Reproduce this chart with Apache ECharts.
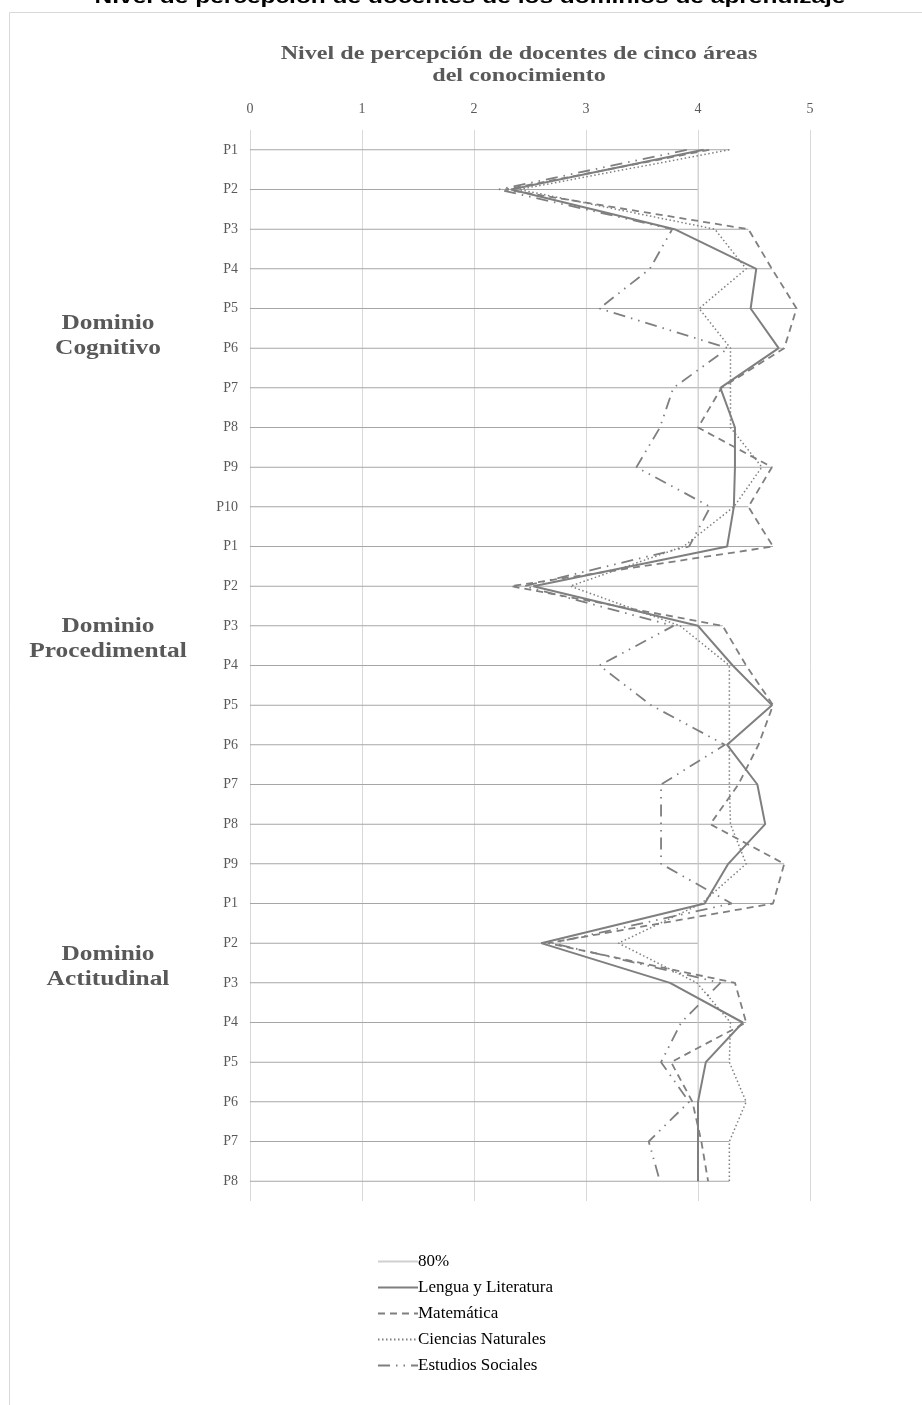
<!DOCTYPE html>
<html>
<head>
<meta charset="utf-8">
<script src="https://cdn.jsdelivr.net/npm/echarts@6/dist/echarts.min.js"></script>
<style>
html,body{margin:0;padding:0;background:#fff;}
#main{width:922px;height:1405px;}
</style>
</head>
<body>
<div id="main"></div>
<script>
var preguntas = ['P1','P2','P3','P4','P5','P6','P7','P8','P9','P10',
  'P1','P2','P3','P4','P5','P6','P7','P8','P9',
  'P1','P2','P3','P4','P5','P6','P7','P8'];
var ochenta = [4,4,4,4,4,4,4,4,4,4, 4,4,4,4,4,4,4,4,4, 4,4,4,4,4,4,4,4];
var lengua = [4.05,2.33,3.79,4.52,4.47,4.72,4.2,4.33,4.33,4.32,
  4.26,2.53,4.0,4.31,4.66,4.26,4.53,4.6,4.27,
  4.06,2.6,3.75,4.4,4.07,4.0,4.0,4.0];
var matematica = [4.1,2.28,4.45,4.66,4.88,4.77,4.21,4.0,4.66,4.45,
  4.67,2.33,4.22,4.43,4.67,4.54,4.36,4.11,4.77,
  4.67,2.66,4.33,4.43,3.76,3.95,4.03,4.09];
var ciencias = [4.28,2.4,4.15,4.43,4.01,4.29,4.29,4.29,4.57,4.32,
  3.87,2.86,3.84,4.28,4.28,4.28,4.28,4.29,4.43,
  4.03,3.29,3.99,4.29,4.28,4.43,4.28,4.28];
var sociales = [3.9,2.22,3.77,3.57,3.12,4.27,3.78,3.66,3.45,4.11,
  3.92,2.45,3.78,3.12,3.58,4.24,3.67,3.67,3.67,
  4.3,2.7,4.2,3.85,3.67,3.92,3.56,3.66];
var dominios = [['Dominio','Cognitivo'],['Dominio','Procedimental'],['Dominio','Actitudinal']];

// horizontal lines reach the highest value of each row
var maximos = preguntas.map(function(p, i){
  return Math.max(ochenta[i], lengua[i], matematica[i], ciencias[i], sociales[i]);
});

var serif = 'Liberation Serif';
var gris = '#7f7f7f';
var myChart = echarts.init(document.getElementById('main'));

function linea(nombre, datos, tipo, ancho, color){
  return {
    name: nombre, type: 'line', data: datos, symbol: 'none',
    lineStyle: {color: color || gris, width: ancho, type: tipo},
    itemStyle: {color: color || gris},
    emphasis: {disabled: true}, z: 5
  };
}

// the original image is stretched sideways, so texts get scaleX
var textos = [{
  type: 'text', x: 470, y: -11, scaleX: 1.36,
  style: {text: 'Nivel de percepción de docentes de los dominios de aprendizaje',
    fontFamily: 'Liberation Sans', fontWeight: 'bold', fontSize: 18, fill: '#000',
    align: 'center', verticalAlign: 'top'}
}, {
  type: 'text', x: 519, y: 43, scaleX: 1.34,
  style: {text: 'Nivel de percepción de docentes de cinco áreas\ndel conocimiento',
    fontFamily: serif, fontWeight: 'bold', fontSize: 18, fill: '#595959',
    align: 'center', verticalAlign: 'top', lineHeight: 22}
}];
dominios.forEach(function(d, k){
  var ys = [322, 625, 953];
  textos.push({
    type: 'text', x: 108, y: ys[k] - 11, scaleX: 1.27,
    style: {text: d.join('\n'), fontFamily: serif, fontWeight: 'bold', fontSize: 20,
      fill: '#595959', align: 'center', verticalAlign: 'top', lineHeight: 25}
  });
});

var option = {
  backgroundColor: '#fff',
  animation: false,
  graphic: [{
    type: 'rect', shape: {x: 9.5, y: 12.5, width: 930, height: 1410},
    style: {fill: 'none', stroke: '#d9d9d9', lineWidth: 1}, z: -1
  }].concat(textos),
  legend: {
    data: ['80%','Lengua y Literatura','Matemática','Ciencias Naturales','Estudios Sociales'],
    orient: 'vertical', left: 372, top: 1248,
    itemWidth: 40, itemHeight: 14, itemGap: 9,
    itemStyle: {opacity: 0},
    textStyle: {fontFamily: serif, fontSize: 17, color: '#000', padding: [0,0,0,-5]}
  },
  grid: {left: 250, right: 112, top: 130, height: 1071},
  xAxis: {
    type: 'value', position: 'top', min: 0, max: 5, interval: 1,
    axisLine: {show: false}, axisTick: {show: false},
    axisLabel: {fontFamily: serif, fontSize: 14, color: '#595959', margin: 14},
    splitLine: {show: true, lineStyle: {color: '#d9d9d9', width: 1}}
  },
  yAxis: {
    type: 'category', data: preguntas, inverse: true, boundaryGap: true,
    axisLine: {show: false}, axisTick: {show: false},
    axisLabel: {fontFamily: serif, fontSize: 14, color: '#595959', margin: 12},
    splitLine: {show: false}
  },
  series: [
    {
      name: 'filas', type: 'bar', data: maximos, barWidth: 1, silent: true,
      itemStyle: {color: '#a6a6a6'}, z: 2
    },
    linea('80%', ochenta, 'solid', 1, '#d0d0d0'),
    linea('Lengua y Literatura', lengua, 'solid', 2),
    linea('Matemática', matematica, [7, 5], 1.8),
    linea('Ciencias Naturales', ciencias, [1.5, 2.5], 1.5),
    linea('Estudios Sociales', sociales, [12, 6, 1.5, 6, 1.5, 6], 1.8)
  ]
};
myChart.setOption(option);
</script>
</body>
</html>
